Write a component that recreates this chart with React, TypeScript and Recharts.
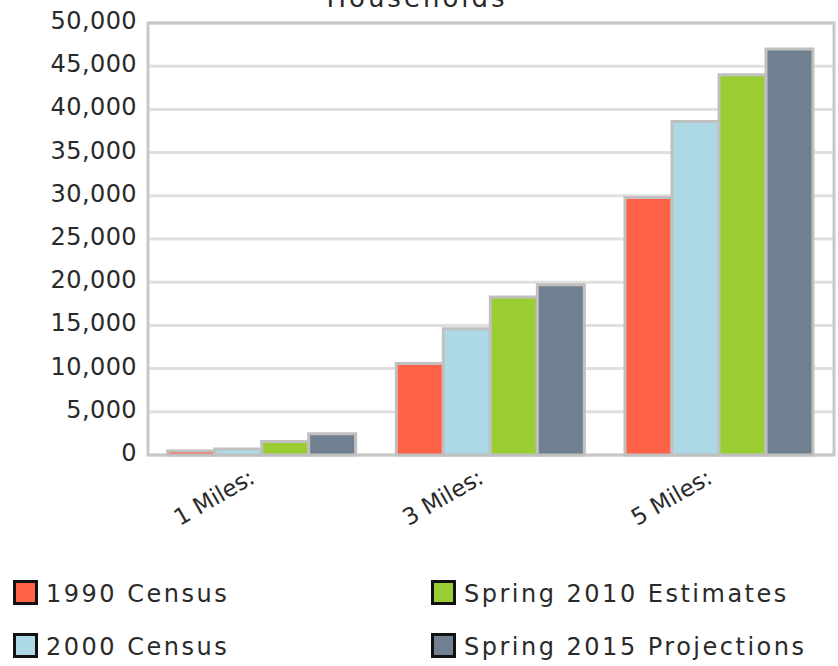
import * as React from 'react';
import { BarChart, Bar, XAxis, YAxis, CartesianGrid, ReferenceArea } from 'recharts';

// values
const categories = ['1 Miles:', '3 Miles:', '5 Miles:'];
const census1990 = [450, 10600, 29800];
const census2000 = [700, 14600, 38600];
const estimates2010 = [1560, 18300, 44000];
const projections2015 = [2450, 19700, 47000];
const yTicks = [0, 5000, 10000, 15000, 20000, 25000, 30000, 35000, 40000, 45000, 50000];

const series = [
  { key: 'c1990', name: '1990 Census', color: '#ff6347', values: census1990 },
  { key: 'c2000', name: '2000 Census', color: '#add8e6', values: census2000 },
  { key: 'e2010', name: 'Spring 2010 Estimates', color: '#9acd32', values: estimates2010 },
  { key: 'p2015', name: 'Spring 2015 Projections', color: '#708090', values: projections2015 },
];

const data = categories.map((name, i) => {
  const row: any = { name };
  series.forEach(s => { row[s.key] = s.values[i]; });
  return row;
});

const FONT = '"DejaVu Sans", Verdana, sans-serif';
const TEXT = '#2a2a2a';

const YTick = ({ x, y, payload }: any) => (
  <text x={x - 3} y={y + 6} textAnchor="end" fontFamily={FONT} fontSize={24} fill={TEXT} letterSpacing={0.4}>
    {payload.value.toLocaleString('en-US')}
  </text>
);

const XTick = ({ x, payload }: any) => {
  const tx = x - 6;
  const ty = 482;
  return (
    <text x={tx} y={ty} transform={`rotate(-30, ${tx}, ${ty})`} textAnchor="end" fontFamily={FONT} fontSize={23} fill={TEXT}>
      {payload.value}
    </text>
  );
};

const legendPos = [
  { left: 13, top: 580 },
  { left: 13, top: 633 },
  { left: 431, top: 580 },
  { left: 431, top: 633 },
];

export default function App() {
  return (
    <div style={{ position: 'absolute', left: 0, top: 0, width: 838, height: 666, background: 'white', overflow: 'hidden' }}>
      <div style={{
        position: 'absolute', left: 0, top: -17, width: 834, textAlign: 'center',
        fontFamily: FONT, fontSize: 26, letterSpacing: 3, color: TEXT, lineHeight: '30px',
      }}>
        Households
      </div>
      <BarChart
        width={838}
        height={666}
        data={data}
        margin={{ top: 23, right: 4, bottom: 0, left: 0 }}
        barGap={0}
        barCategoryGap="8.6%"
      >
        <CartesianGrid horizontal vertical={false} stroke="#e0e0e0" strokeWidth={3} />
        <XAxis dataKey="name" height={211} axisLine={false} tickLine={false} tick={<XTick />} interval={0} />
        <YAxis
          width={148}
          domain={[0, 50000]}
          ticks={yTicks}
          axisLine={false}
          tickLine={false}
          tick={<YTick />}
          interval={0}
        />
        <ReferenceArea y1={0} y2={50000} fill="none" stroke="#c8c8c8" strokeWidth={3} ifOverflow="visible" />
        {series.map(s => (
          <Bar
            key={s.key}
            dataKey={s.key}
            name={s.name}
            fill={s.color}
            stroke="#c0c0c0"
            strokeWidth={3}
            isAnimationActive={false}
          />
        ))}
      </BarChart>
      {series.map((s, i) => (
        <div key={s.key} style={{
          position: 'absolute', left: legendPos[i].left, top: legendPos[i].top,
          display: 'flex', alignItems: 'flex-start',
        }}>
          <span style={{
            width: 19, height: 19, border: '3px solid #111', background: s.color, display: 'inline-block',
          }} />
          <span style={{
            marginLeft: 8, fontFamily: FONT, fontSize: 24, letterSpacing: 2.5, color: TEXT,
            lineHeight: '28px', marginTop: 0, whiteSpace: 'nowrap',
          }}>
            {s.name}
          </span>
        </div>
      ))}
    </div>
  );
}
